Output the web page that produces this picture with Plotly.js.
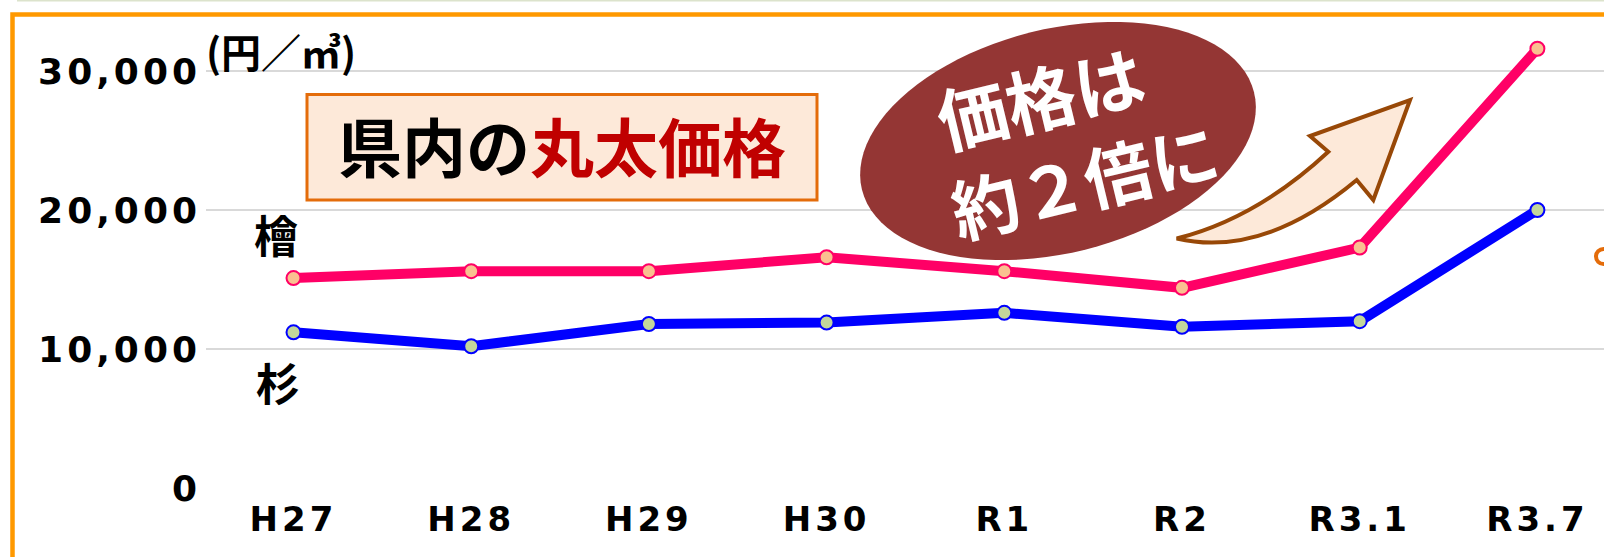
<!DOCTYPE html>
<html>
<head>
<meta charset="utf-8">
<script src="https://cdn.plot.ly/plotly-3.0.1.min.js"></script>
<style>
  html, body { margin: 0; padding: 0; background: #ffffff; }
  #chart { width: 1604px; height: 557px; }
  .ytick text { letter-spacing: 4px; }
  .xtick text { letter-spacing: 4px; }
</style>
</head>
<body>
<div id="chart"></div>
<script>
// ---- data ----
const categories = ['H27', 'H28', 'H29', 'H30', 'R1', 'R2', 'R3.1', 'R3.7'];
const hinokiPrice = [15100, 15600, 15600, 16600, 15600, 14400, 17300, 31600]; // 檜
const sugiPrice   = [11200, 10200, 11800, 11900, 12600, 11600, 12000, 20000]; // 杉
const yTickVals = [0, 10000, 20000, 30000];
const yTickText = ['0', '10,000', '20,000', '30,000'];
const unitLabel = '(円／㎥)';
const titleBlack = '県内の';
const titleRed = '丸太価格';
const bubbleLine1 = '価格は';
const bubbleLine2 = '約２倍に';
const hinokiName = '檜';
const sugiName = '杉';

// ---- layout geometry (pixels) ----
const L = 206, T = 20, W = 1398, H = 468;
const px = x => (x - L) / W;
const py = y => (T + H - y) / H;
const xIdx = categories.map((c, i) => i);

const CJK = '"Noto Sans CJK JP", "Noto Sans", sans-serif';
const NUM = '"DejaVu Sans", sans-serif';

// rotated ellipse path (decoration)
function ellipsePath(cx, cy, a, b, deg) {
  const t = deg * Math.PI / 180;
  const ux = Math.cos(t), uy = -Math.sin(t), vx = Math.sin(t), vy = Math.cos(t);
  let d = '';
  for (let k = 0; k <= 96; k++) {
    const f = 2 * Math.PI * k / 96;
    const x = cx + a * Math.cos(f) * ux + b * Math.sin(f) * vx;
    const y = cy + a * Math.cos(f) * uy + b * Math.sin(f) * vy;
    d += (k === 0 ? 'M' : 'L') + px(x).toFixed(5) + ',' + py(y).toFixed(5);
  }
  return d + 'Z';
}
function P(x, y) { return px(x).toFixed(5) + ',' + py(y).toFixed(5); }

const arrowPath =
  'M' + P(1176.7, 238.5) +
  ' Q' + P(1256.7, 218.3) + ' ' + P(1328.3, 151.7) +
  ' L' + P(1310, 136) +
  ' L' + P(1410, 100) +
  ' L' + P(1373.3, 200) +
  ' L' + P(1356.7, 180) +
  ' Q' + P(1262.3, 258.6) + ' ' + P(1176.7, 238.5) + ' Z';

const traces = [
  {
    x: xIdx, y: hinokiPrice, name: hinokiName, type: 'scatter', mode: 'lines+markers',
    line: { color: '#FF0066', width: 10 },
    marker: { size: 14, color: '#FAC090', line: { color: '#FF0066', width: 2 } },
    cliponaxis: false, hoverinfo: 'skip'
  },
  {
    x: xIdx, y: sugiPrice, name: sugiName, type: 'scatter', mode: 'lines+markers',
    line: { color: '#0000FF', width: 10 },
    marker: { size: 14, color: '#C3D69B', line: { color: '#0000FF', width: 2 } },
    cliponaxis: false, hoverinfo: 'skip'
  }
];

const r0 = -(293.5 - L) / 177.7;
const layout = {
  width: 1604, height: 557,
  margin: { l: L, r: 1604 - L - W, t: T, b: 557 - T - H },
  paper_bgcolor: '#ffffff', plot_bgcolor: '#ffffff',
  showlegend: false,
  xaxis: {
    range: [r0, r0 + W / 177.7],
    tickmode: 'array', tickvals: xIdx, ticktext: categories,
    showgrid: false, zeroline: false, showline: false, ticks: '',
    ticklabelstandoff: 8,
    tickfont: { family: NUM, size: 34, color: '#000000', weight: 'bold' },
    fixedrange: true
  },
  yaxis: {
    range: [0, 30000 * H / 417],
    tickmode: 'array', tickvals: yTickVals, ticktext: yTickText,
    showgrid: true, gridcolor: '#D9D9D9', gridwidth: 2,
    zeroline: false, showline: false, ticks: '',
    ticklabelstandoff: 4,
    tickfont: { family: NUM, size: 36, color: '#000000', weight: 'bold' },
    fixedrange: true
  },
  shapes: [
    // faint top line
    { type: 'line', xref: 'paper', yref: 'paper', x0: px(17), x1: px(1604), y0: py(0.5), y1: py(0.5),
      line: { color: '#DCE3CC', width: 2 }, layer: 'below' },
    // outer orange frame
    { type: 'rect', xref: 'paper', yref: 'paper', x0: px(12.5), x1: px(1640), y0: py(14.5), y1: py(600),
      line: { color: '#FF9900', width: 4.5 }, fillcolor: 'rgba(0,0,0,0)', layer: 'below' },
    // title box
    { type: 'rect', xref: 'paper', yref: 'paper', x0: px(307), x1: px(817), y0: py(94.5), y1: py(200),
      line: { color: '#E46C0A', width: 3 }, fillcolor: '#FDE9D9', layer: 'above' },
    // bubble ellipse
    { type: 'path', xref: 'paper', yref: 'paper', path: ellipsePath(1058, 141, 202, 112, 14),
      line: { width: 0 }, fillcolor: '#943634', layer: 'above' },
    // curved arrow
    { type: 'path', xref: 'paper', yref: 'paper', path: arrowPath,
      line: { color: '#984807', width: 4 }, fillcolor: '#FDE9D9', layer: 'above' },
    // cut-off orange circle at right edge
    { type: 'circle', xref: 'paper', yref: 'paper', x0: px(1596), x1: px(1611), y0: py(249), y1: py(264),
      line: { color: '#E46C0A', width: 4 }, fillcolor: 'rgba(0,0,0,0)', layer: 'above' }
  ],
  annotations: [
    { xref: 'paper', yref: 'paper', x: px(562), y: py(144), xanchor: 'center', yanchor: 'middle',
      text: titleBlack + '<span style="color:#C00000">' + titleRed + '</span>', showarrow: false,
      font: { family: CJK, size: 64, color: '#000000', weight: 'bold' } },
    { xref: 'paper', yref: 'paper', x: px(1040), y: py(96), xanchor: 'center', yanchor: 'middle',
      text: bubbleLine1, showarrow: false, textangle: -13.5,
      font: { family: CJK, size: 70, color: '#FFFFFF', weight: 'bold' } },
    { xref: 'paper', yref: 'paper', x: px(1084), y: py(178), xanchor: 'center', yanchor: 'middle',
      text: bubbleLine2, showarrow: false, textangle: -13.5,
      font: { family: CJK, size: 68, color: '#FFFFFF', weight: 'bold' } },
    { xref: 'paper', yref: 'paper', x: px(281), y: py(51), xanchor: 'center', yanchor: 'middle',
      text: unitLabel, showarrow: false,
      font: { family: CJK, size: 40, color: '#000000', weight: 'bold' } },
    { xref: 'paper', yref: 'paper', x: px(276), y: py(234), xanchor: 'center', yanchor: 'middle',
      text: hinokiName, showarrow: false,
      font: { family: CJK, size: 44, color: '#000000', weight: 'bold' } },
    { xref: 'paper', yref: 'paper', x: px(278), y: py(382), xanchor: 'center', yanchor: 'middle',
      text: sugiName, showarrow: false,
      font: { family: CJK, size: 44, color: '#000000', weight: 'bold' } }
  ]
};

Plotly.newPlot('chart', traces, layout, { staticPlot: true, displayModeBar: false });
</script>
</body>
</html>
